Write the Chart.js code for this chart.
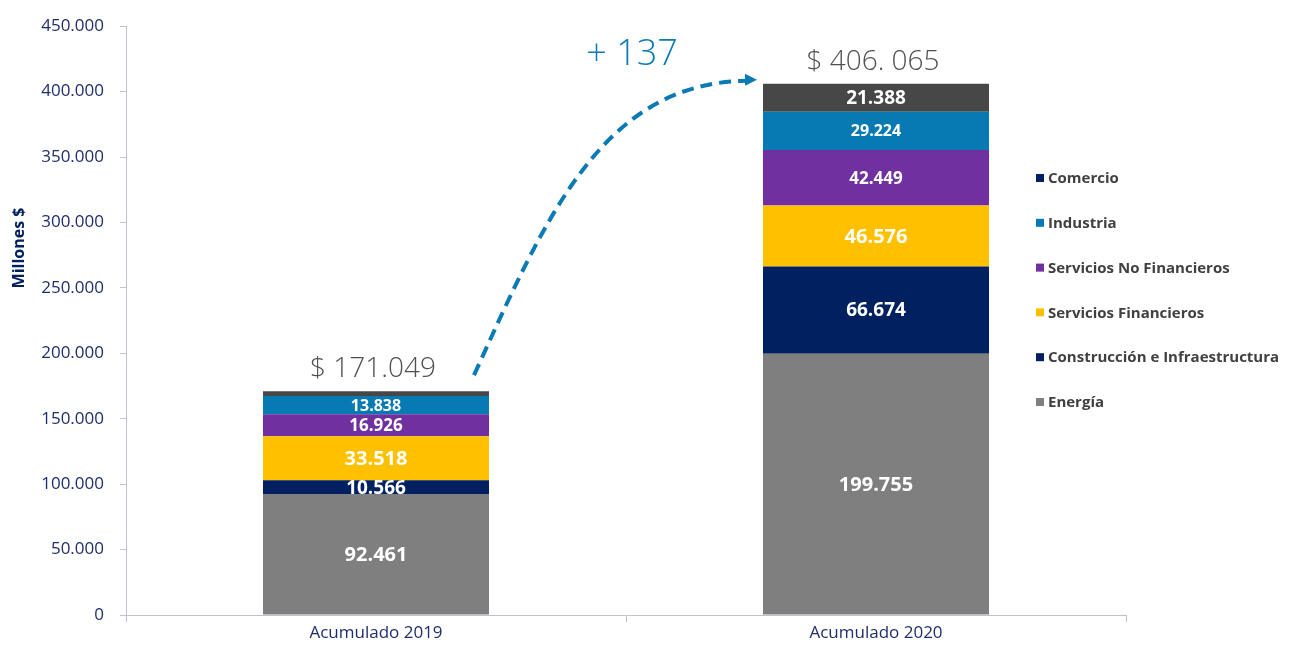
<!DOCTYPE html>
<html>
<head>
<meta charset="utf-8">
<script src="https://cdn.jsdelivr.net/npm/chart.js@4.4.0/dist/chart.umd.min.js"></script>
<style>
  body { margin: 0; background: #fff; }
  #wrap { width: 1290px; height: 645px; position: relative; }
</style>
</head>
<body>
<div id="wrap"><canvas id="mycanvas"></canvas></div>
<script>
// categories and series (millones $)
var categorias = ['Acumulado 2019', 'Acumulado 2020'];
var energia = [92461, 199755];
var construccion = [10566, 66674];
var serviciosFin = [33518, 46576];
var serviciosNoFin = [16926, 42449];
var industria = [13838, 29224];
var comercio = [3740, 21388];
var totales = ['$ 171.049', '$ 406. 065'];
var variacion = '+ 137';
var yTicks = [0, 50000, 100000, 150000, 200000, 250000, 300000, 350000, 400000, 450000];

function miles(v) {
	return String(v).replace(/\B(?=(\d{3})+(?!\d))/g, '.');
}

var datasets = [
	{ label: 'Energía', data: energia, backgroundColor: '#7f7f7f', labelSize: 20 },
	{ label: 'Construcción e Infraestructura', data: construccion, backgroundColor: '#002060', labelSize: 19 },
	{ label: 'Servicios Financieros', data: serviciosFin, backgroundColor: '#ffc000', labelSize: 20 },
	{ label: 'Servicios No Financieros', data: serviciosNoFin, backgroundColor: '#7030a0', labelSize: 17 },
	{ label: 'Industria', data: industria, backgroundColor: '#0779b3', labelSize: 16 },
	{ label: 'Comercio', data: comercio, backgroundColor: '#474747', legendColor: '#002060', labelSize: 19 }
];

var extras = {
	id: 'extras',
	afterDatasetsDraw: function(chart) {
		var ctx = chart.ctx;
		ctx.save();
		ctx.textAlign = 'center';
		ctx.textBaseline = 'middle';
		ctx.fillStyle = '#ffffff';
		chart.data.datasets.forEach(function(ds, d) {
			var meta = chart.getDatasetMeta(d);
			meta.data.forEach(function(bar, i) {
				var h = bar.base - bar.y;
				if (h < 8) return;
				ctx.font = 'bold ' + ds.labelSize + 'px "Open Sans"';
				ctx.fillText(miles(ds.data[i]), bar.x, (bar.y + bar.base) / 2 + 1);
			});
		});
		ctx.restore();
	},
	afterDraw: function(chart) {
		var ctx = chart.ctx;
		var last = chart.getDatasetMeta(chart.data.datasets.length - 1).data;
		ctx.save();

		// totals above bars
		ctx.textAlign = 'center';
		ctx.textBaseline = 'middle';
		ctx.fillStyle = '#505050';
		ctx.font = '300 28px "Open Sans"';
		last.forEach(function(bar, i) {
			ctx.fillText(totales[i], bar.x - 3, bar.y - 22);
		});

		// dashed arrow
		var b0 = last[0], b1 = last[1];
		var p0 = { x: b0.x + 98, y: b0.y - 16 };
		var p3 = { x: b1.x - b1.width / 2 - 6, y: b1.y - 4 };
		var c1 = { x: p0.x + 72, y: p0.y - 158 };
		var c2 = { x: p3.x - 155, y: p3.y + 2 };
		ctx.strokeStyle = '#0a7ab4';
		ctx.lineWidth = 4;
		ctx.setLineDash([12, 7]);
		ctx.beginPath();
		ctx.moveTo(p0.x, p0.y);
		ctx.bezierCurveTo(c1.x, c1.y, c2.x, c2.y, p3.x - 8, p3.y + 1);
		ctx.stroke();
		ctx.setLineDash([]);
		var ang = Math.atan2(p3.y - c2.y, p3.x - c2.x);
		ctx.fillStyle = '#0a7ab4';
		ctx.beginPath();
		ctx.moveTo(p3.x, p3.y);
		ctx.lineTo(p3.x - 12 * Math.cos(ang) + 6 * Math.sin(ang), p3.y - 12 * Math.sin(ang) - 6 * Math.cos(ang));
		ctx.lineTo(p3.x - 12 * Math.cos(ang) - 6 * Math.sin(ang), p3.y - 12 * Math.sin(ang) + 6 * Math.cos(ang));
		ctx.closePath();
		ctx.fill();

		ctx.font = '300 36px "Open Sans"';
		ctx.fillText(variacion, (b0.x + b1.x) / 2 + 6, b1.y - 29);

		// y axis title
		ctx.save();
		ctx.translate(19, 248);
		ctx.rotate(-Math.PI / 2);
		ctx.fillStyle = '#002060';
		ctx.font = 'bold 16px "Open Sans"';
		ctx.fillText('Millones $', 0, 0);
		ctx.restore();

		// legend (Comercio on top)
		ctx.textAlign = 'left';
		ctx.font = 'bold 15px "Open Sans"';
		var items = chart.data.datasets.slice().reverse();
		items.forEach(function(ds, k) {
			var y = 178 + k * 44.8;
			ctx.fillStyle = ds.legendColor || ds.backgroundColor;
			ctx.fillRect(1036, y - 4, 8, 8);
			ctx.fillStyle = '#404040';
			ctx.fillText(ds.label, 1048, y + 1);
		});
		ctx.restore();
	}
};

var axisColor = '#bfc3cf';
var tickColor = '#1f2d6b';

var ctx = document.getElementById('mycanvas');
var barGraph = new Chart(ctx, {
	type: 'bar',
	data: { labels: categorias, datasets: datasets },
	plugins: [extras],
	options: {
		responsive: true,
		maintainAspectRatio: false,
		animation: false,
		layout: { padding: { top: 23, right: 164, bottom: 0, left: 0 } },
		datasets: { bar: { categoryPercentage: 1, barPercentage: 0.452 } },
		plugins: { legend: { display: false }, tooltip: { enabled: false } },
		scales: {
			x: {
				stacked: true,
				grid: { display: true, drawOnChartArea: false, drawTicks: true, tickLength: 7, color: axisColor, offset: true },
				border: { color: axisColor },
				ticks: { color: tickColor, font: { family: 'Open Sans', size: 17 }, padding: 1 },
				afterFit: function(s) { s.height = 30; }
			},
			y: {
				stacked: true,
				min: 0,
				max: 450000,
				afterBuildTicks: function(s) { s.ticks = yTicks.map(function(v) { return { value: v }; }); },
				grid: { display: true, drawOnChartArea: false, drawTicks: true, tickLength: 6, color: axisColor },
				border: { color: axisColor },
				ticks: { color: tickColor, font: { family: 'Open Sans', size: 17 }, padding: 16, callback: function(v) { return miles(v); } },
				afterFit: function(s) { s.width = 126; }
			}
		}
	}
});
</script>
</body>
</html>
